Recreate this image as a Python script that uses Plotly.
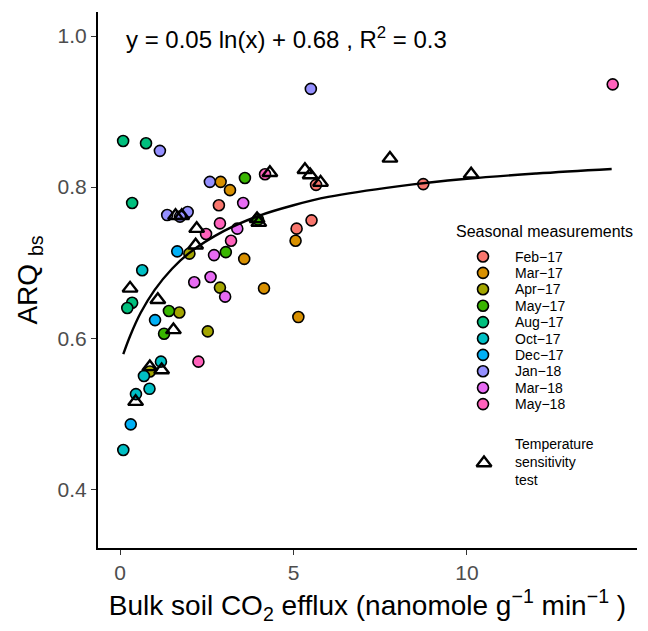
import plotly.graph_objects as go

# ---- data ----
months = ["Feb\u221217", "Mar\u221217", "Apr\u221217", "May\u221217", "Aug\u221217",
          "Oct\u221217", "Dec\u221217", "Jan\u221218", "Mar\u221218", "May\u221218"]
colors = ["#F8766D", "#D89000", "#A3A500", "#39B600", "#00BF7D",
          "#00BFC4", "#00B0F6", "#9590FF", "#E76BF3", "#FF62BC"]

feb17_x = [2.85, 5.09, 5.52, 5.65, 8.74]
feb17_y = [0.776, 0.745, 0.756, 0.803, 0.804]
mar17_x = [2.90, 3.17, 5.06, 3.58, 4.15, 5.14]
mar17_y = [0.807, 0.796, 0.729, 0.705, 0.666, 0.628]
apr17_x = [2.88, 2.53, 1.71, 2.00, 0.86]
apr17_y = [0.667, 0.609, 0.634, 0.712, 0.556]
may17_x = [3.60, 3.05, 1.41, 1.27, 3.98]
may17_y = [0.812, 0.714, 0.636, 0.606, 0.757]
aug17_x = [0.09, 0.75, 0.35, 0.35, 0.21]
aug17_y = [0.861, 0.858, 0.779, 0.647, 0.640]
oct17_x = [0.64, 1.18, 0.69, 0.85, 0.46, 0.095]
oct17_y = [0.690, 0.569, 0.550, 0.533, 0.526, 0.452]
dec17_x = [1.01, 1.65, 0.31]
dec17_y = [0.624, 0.715, 0.486]
jan18_x = [1.15, 2.59, 1.36, 1.95, 1.73, 5.50]
jan18_y = [0.848, 0.807, 0.763, 0.767, 0.761, 0.930]
mar18_x = [3.55, 3.38, 2.71, 2.61, 3.03, 2.14]
mar18_y = [0.779, 0.745, 0.710, 0.681, 0.655, 0.674]
may18_x = [2.88, 2.48, 3.20, 2.26, 4.18, 14.2]
may18_y = [0.752, 0.738, 0.729, 0.569, 0.817, 0.936]

tst_x = [0.29, 0.45, 0.86, 1.20, 1.09, 1.54, 1.60, 1.78, 2.21, 2.18,
         3.95, 4.00, 4.32, 5.33, 5.48, 5.78, 7.78, 10.12]
tst_y = [0.666, 0.516, 0.562, 0.558, 0.651, 0.611, 0.762, 0.762, 0.745, 0.723,
         0.758, 0.753, 0.819, 0.823, 0.816, 0.806, 0.838, 0.817]

# fitted curve, read along its path
curve_x = [0.095, 0.3, 0.6, 1.0, 1.5, 2.0, 3.0, 4.0, 5.0, 6.0, 8.0, 10.0, 12.0, 14.17]
curve_y = [0.579, 0.604, 0.634, 0.664, 0.692, 0.713, 0.742, 0.762, 0.776, 0.787,
           0.801, 0.811, 0.818, 0.824]

x_ticks = [0, 5, 10]
y_ticks = [0.4, 0.6, 0.8, 1.0]
x_ticklabels = ["0", "5", "10"]
y_ticklabels = ["0.4", "0.6", "0.8", "1.0"]

legend_title = "Seasonal measurements"
test_label = "Temperature<br>sensitivity<br>test"
equation = "y = 0.05 ln(x) + 0.68 , R<sup>2</sup> = 0.3"

xs = [feb17_x, mar17_x, apr17_x, may17_x, aug17_x, oct17_x, dec17_x, jan18_x, mar18_x, may18_x]
ys = [feb17_y, mar17_y, apr17_y, may17_y, aug17_y, oct17_y, dec17_y, jan18_y, mar18_y, may18_y]

FONT = "Liberation Sans, Arial, Helvetica, sans-serif"

# page has an 8px body margin; the figure is sized to fit the 648x631 window
W, H = 640, 623
fig = go.Figure()
for name, c, x, y in zip(months, colors, xs, ys):
    fig.add_trace(go.Scatter(
        x=x, y=y, mode="markers", name=name, showlegend=False,
        marker=dict(symbol="circle", size=11, color=c, line=dict(color="black", width=1.6)),
    ))

fig.add_trace(go.Scatter(
    x=curve_x, y=curve_y, mode="lines", line=dict(color="black", width=2.4, shape="spline"),
    showlegend=False, hoverinfo="skip",
))

fig.add_trace(go.Scatter(
    x=tst_x, y=tst_y, mode="markers", name="Temperature sensitivity test", showlegend=False,
    marker=dict(symbol="triangle-up-open", size=13, color="black",
                line=dict(color="black", width=2.4)),
))

# ---- legend drawn in a pixel-like overlay frame (x: 98..637, y: 12..548 top-down) ----
leg_sym_x = 483
leg_txt_x = 513
leg_y0 = 256.5
leg_dy = 16.4
leg_ys = [leg_y0 + i * leg_dy for i in range(len(months))]
fig.add_trace(go.Scatter(
    x=[leg_sym_x] * len(months), y=leg_ys, xaxis="x2", yaxis="y2", mode="markers",
    marker=dict(symbol="circle", size=11, color=colors, line=dict(color="black", width=1.6)),
    showlegend=False, hoverinfo="skip",
))
fig.add_trace(go.Scatter(
    x=[484], y=[463], xaxis="x2", yaxis="y2", mode="markers",
    marker=dict(symbol="triangle-up-open", size=13, color="black", line=dict(color="black", width=2.4)),
    showlegend=False, hoverinfo="skip",
))

annotations = [
    dict(xref="x2", yref="y2", x=124, y=38, xanchor="left", yanchor="middle",
         text=equation, showarrow=False, font=dict(size=24, family=FONT, color="black")),
    dict(xref="x2", yref="y2", x=454, y=231, xanchor="left", yanchor="middle",
         text=legend_title, showarrow=False, font=dict(size=16, family=FONT, color="black")),
    dict(xref="x2", yref="y2", x=leg_txt_x, y=462, xanchor="left", yanchor="middle", align="left",
         text=test_label, showarrow=False, font=dict(size=14, family=FONT, color="black")),
]
for m, yy in zip(months, leg_ys):
    annotations.append(dict(xref="x2", yref="y2", x=leg_txt_x, y=yy, xanchor="left", yanchor="middle",
                            text=m, showarrow=False, font=dict(size=14, family=FONT, color="black")))

fig.update_layout(
    width=W, height=H,
    margin=dict(l=90, r=11, t=4, b=83),
    paper_bgcolor="white", plot_bgcolor="white",
    font=dict(family=FONT, color="black"),
    xaxis=dict(
        range=[-0.634, 14.9], tickvals=x_ticks, ticktext=x_ticklabels,
        showline=True, linecolor="black", linewidth=2, ticks="outside", ticklen=5,
        tickwidth=1, tickcolor="#333333", showgrid=False, zeroline=False, automargin=False,
        tickfont=dict(size=21, color="#4D4D4D", family=FONT),
        title=dict(text="Bulk soil CO<sub>2</sub> efflux (nanomole g<sup>\u22121</sup> min<sup>\u22121</sup> )",
                   font=dict(size=28, color="black", family=FONT), standoff=12),
    ),
    yaxis=dict(
        range=[0.3223, 1.0318], tickvals=y_ticks, ticktext=y_ticklabels,
        showline=True, linecolor="black", linewidth=2, ticks="outside", ticklen=5,
        tickwidth=1, tickcolor="#333333", showgrid=False, zeroline=False, automargin=False,
        tickfont=dict(size=21, color="#4D4D4D", family=FONT),
        title=dict(text="ARQ <sub>bs</sub>", font=dict(size=28, color="black", family=FONT), standoff=12),
    ),
    xaxis2=dict(range=[98, 637], overlaying="x", visible=False, fixedrange=True),
    yaxis2=dict(range=[548, 12], overlaying="y", visible=False, fixedrange=True),
    annotations=annotations,
)

fig.write_html("out.html")
